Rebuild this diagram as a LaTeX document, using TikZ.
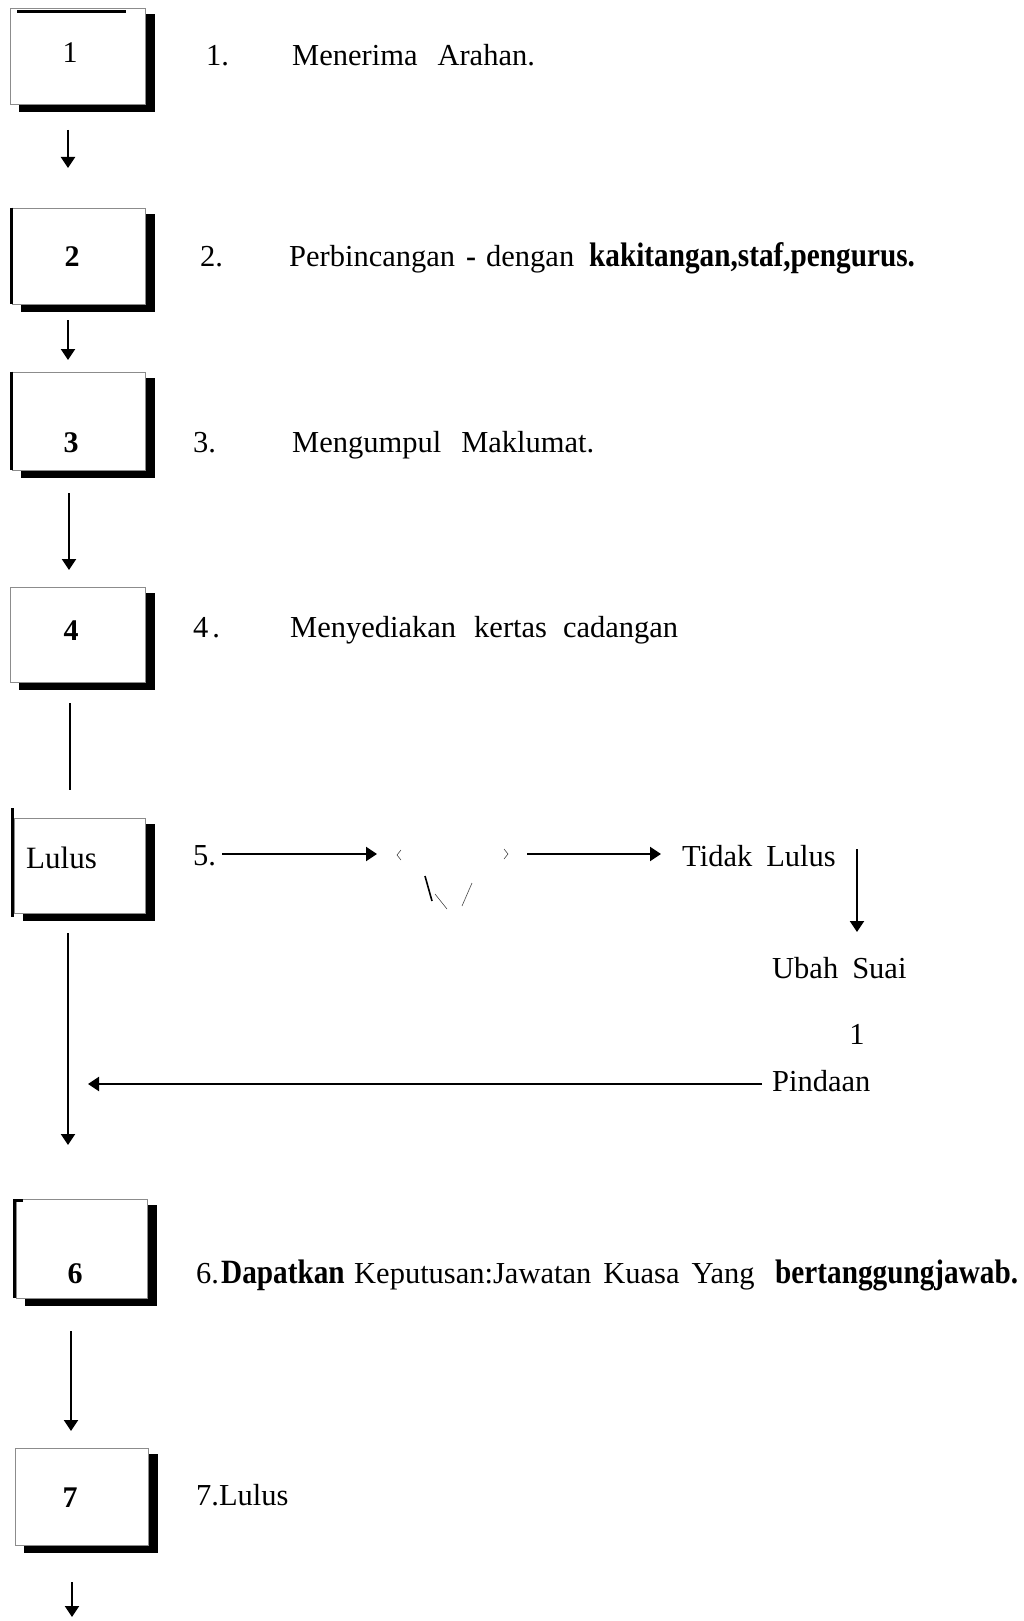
\documentclass[tikz,border=0pt]{standalone}
\usepackage{fontspec}
\usepackage{graphicx}
\setmainfont{Liberation Serif}
\usetikzlibrary{arrows.meta}
\newcommand\bcond[1]{\scalebox{0.86}[1]{\fontsize{34}{40}\selectfont\bfseries #1}}
\tikzset{
  txt/.style={anchor=base west, inner sep=0pt, font=\fontsize{30.5}{36}\selectfont},
  boxnum/.style={anchor=base, inner sep=0pt, font=\fontsize{30}{36}\selectfont\bfseries},
  arr/.style={line width=2pt, -{Triangle[width=14pt,length=11pt]}},
  plain/.style={line width=2pt},
  boxframe/.style={draw=black!45, line width=0.8pt, fill=white, inner sep=0pt},
  shade/.style={fill=black},
  leftbar/.style={line width=3pt},
  frag/.style={line width=0.6pt, draw=black!70}
}
% \flowbox{name}{x1}{y1}{x2}{y2}
\newcommand\flowbox[5]{%
  \fill[shade] (#4,#3+6) rectangle (#4+10,#5+8);
  \fill[shade] (#2+9,#5) rectangle (#4+10,#5+8);
  \node[boxframe, minimum width=#4-#2, minimum height=#5-#3] (#1) at ({(#2+#4)/2},{(#3+#5)/2}) {};
}
\begin{document}
\begin{tikzpicture}[x=1pt,y=-1pt]
\useasboundingbox[fill=white] (0,0) rectangle (1023,1621);

% ---------- boxes ----------
\flowbox{b1}{10}{8}{145}{104}
\fill[black] (17,10) rectangle (126,13);
\flowbox{b2}{12}{208}{145}{304}
\draw[leftbar] (b2.north west) -- (b2.south west);
\flowbox{b3}{12}{372}{145}{470}
\draw[leftbar] (b3.north west) -- (b3.south west);
\flowbox{b4}{10}{587}{145}{682}
\flowbox{b5}{14}{818}{145}{913}
\draw[leftbar] (12,808) -- (12,917);
\flowbox{b6}{16}{1199}{147}{1298}
\draw[leftbar] (23,1200) -- (14,1200) -- (14,1298);
\flowbox{b7}{15}{1448}{148}{1545}

% box labels
\node[boxnum, font=\fontsize{30}{36}\selectfont] (n1) at (70,63) {1};
\node[boxnum] (n2) at (72,266) {2};
\node[boxnum] (n3) at (71,452) {3};
\node[boxnum] (n4) at (71,640) {4};
\node[anchor=base west, inner sep=0pt, font=\fontsize{31}{36}\selectfont] (n5) at (26,868) {Lulus};
\node[boxnum] (n6) at (75,1283) {6};
\node[boxnum] (n7) at (70,1507) {7};

% ---------- step texts ----------
\node[txt] (t1n) at (206,66) {1.};
\node[txt] (t1) at (292,66) {Menerima\hspace{20pt}Arahan.};
\node[txt] (t2n) at (200,266) {2.};
\node[txt] (t2) at (289,266) {Perbincangan};
\node[txt, font=\fontsize{30}{36}\selectfont\bfseries] (t2d) at (466,266) {-};
\node[txt] (t2b) at (486,266) {dengan};
\node[txt] (t2c) at (589,266) {\bcond{kakitangan,staf,pengurus.}};
\node[txt] (t3n) at (193,452) {3.};
\node[txt] (t3) at (292,452) {Mengumpul\hspace{20pt}Maklumat.};
\node[txt] (t4n) at (193,637) {4\hspace{4pt}.};
\node[txt] (t4) at (290,637) {Menyediakan\hspace{18pt}kertas\hspace{16pt}cadangan};
\node[txt] (t5n) at (193,865) {5.};
\node[txt] (tl) at (682,866) {Tidak\hspace{14pt}Lulus};
\node[txt] (us) at (772,978) {Ubah\hspace{14pt}Suai};
\node[txt, anchor=base] (one) at (857,1044) {1};
\node[txt] (pd) at (772,1091) {Pindaan};
\node[txt] (t6n) at (196,1283) {6.};
\node[txt] (t6a) at (221,1283) {\bcond{Dapatkan}};
\node[txt] (t6b) at (354,1283) {Keputusan:Jawatan\hspace{12pt}Kuasa\hspace{12pt}Yang};
\node[txt] (t6c) at (775,1283) {\bcond{bertanggungjawab.}};
\node[txt] (t7) at (196,1505) {7.Lulus};

% ---------- connector end points ----------
\coordinate (a1s) at (68,130);  \coordinate (a1e) at (68,168);
\coordinate (a2s) at (68,320);  \coordinate (a2e) at (68,360);
\coordinate (a3s) at (69,493);  \coordinate (a3e) at (69,570);
\coordinate (l4s) at (70,703);  \coordinate (l4e) at (70,790);
\coordinate (l5s) at (68,933);  \coordinate (l5e) at (68,1145);
\coordinate (a6s) at (71,1331); \coordinate (a6e) at (71,1431);
\coordinate (a7s) at (72,1582); \coordinate (a7e) at (72,1617);
\coordinate (h1s) at (222,854); \coordinate (h1e) at (377,854);
\coordinate (h2s) at (527,854); \coordinate (h2e) at (661,854);
\coordinate (vds) at (857,849); \coordinate (vde) at (857,932);
\coordinate (pls) at (762,1084); \coordinate (ple) at (88,1084);

\draw[arr] (a1s) -- (a1e);
\draw[arr] (a2s) -- (a2e);
\draw[arr] (a3s) -- (a3e);
\draw[plain] (l4s) -- (l4e);
\draw[arr] (l5s) -- (l5e);
\draw[arr] (a6s) -- (a6e);
\draw[arr] (a7s) -- (a7e);
\draw[arr] (h1s) -- (h1e);
\draw[arr] (h2s) -- (h2e);
\draw[arr] (vds) -- (vde);
\draw[arr] (pls) -- (ple);

% ---------- faint decision fragments ----------
\draw[frag] (401,850) -- (397,855) -- (401,860);
\draw[frag] (504,849) -- (508,854) -- (504,859);
\draw[line width=1.6pt] (425,876) -- (432,901);
\draw[frag] (435,894) -- (447,909);
\draw[frag] (472,883) -- (462,906);
\end{tikzpicture}
\end{document}
